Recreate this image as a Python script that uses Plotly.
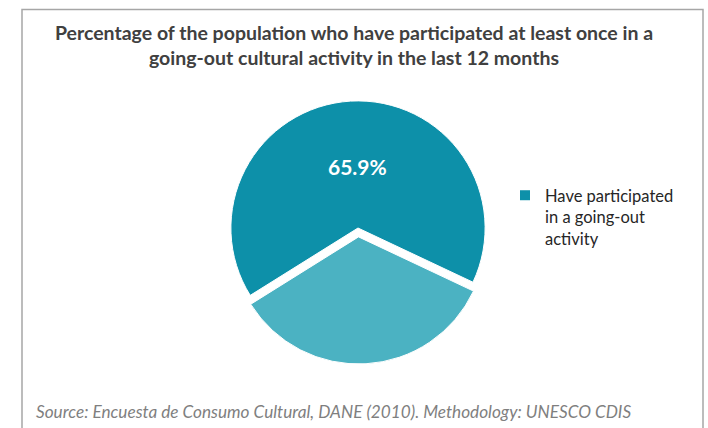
import plotly.graph_objects as go

# Data
labels = ["Have participated in a going-out activity", "Have not participated"]
values = [65.9, 34.1]
legend_label = "Have participated<br>in a going-out<br>activity"
title_text = ("Percentage of the population who have participated at least once in a"
              "<br>going-out cultural activity in the last 12 months")
source_text = "Source: Encuesta de Consumo Cultural, DANE (2010). Methodology: UNESCO CDIS"

colors = ["#0D90A9", "#4BB2C2"]
W, H = 708, 428

def px_x(x):
    return x / W

def px_y(y):
    return 1 - y / H

fig = go.Figure()

fig.add_trace(go.Pie(
    labels=labels,
    values=values,
    sort=False,
    direction="clockwise",
    rotation=-122,
    pull=[0, 0.07],
    marker=dict(colors=colors, line=dict(color="white", width=1)),
    textinfo="none",
    hoverinfo="label+percent",
    showlegend=False,
    domain=dict(x=[px_x(222), px_x(494)], y=[px_y(364), px_y(92)]),
))

# legend entry for the first category only
fig.add_trace(go.Scatter(
    x=[None], y=[None], mode="markers",
    name=legend_label,
    marker=dict(symbol="square", size=10, color=colors[0]),
    showlegend=True,
))

fig.add_annotation(
    x=px_x(357), y=px_y(166), xref="paper", yref="paper",
    text=f"<b>{values[0]:.1f}%</b>", showarrow=False,
    font=dict(family="Lato, sans-serif", size=21, color="white"),
    xanchor="center", yanchor="middle",
)

fig.add_annotation(
    x=px_x(34), y=px_y(411), xref="paper", yref="paper",
    text=f"<i>{source_text}</i>", showarrow=False,
    font=dict(family="Lato, sans-serif", size=17.2, color="#7F7F7F"),
    xanchor="left", yanchor="middle",
)

fig.add_shape(
    type="rect", xref="paper", yref="paper",
    x0=px_x(22), x1=px_x(703), y0=-0.2, y1=px_y(9.5),
    line=dict(color="#A6A6A6", width=1.5), fillcolor="rgba(0,0,0,0)", layer="below",
)

fig.update_layout(
    width=W, height=H,
    margin=dict(l=0, r=0, t=0, b=0),
    paper_bgcolor="white", plot_bgcolor="white",
    title=dict(
        text=f"<b>{title_text}</b>",
        x=0.5, xanchor="center", xref="paper",
        y=px_y(40), yanchor="middle", yref="container",
        font=dict(family="Lato, sans-serif", size=19.5, color="#404040"),
    ),
    xaxis=dict(visible=False), yaxis=dict(visible=False),
    legend=dict(
        x=px_x(505), y=px_y(178), xanchor="left", yanchor="top",
        valign="top",
        font=dict(family="Lato, sans-serif", size=16.5, color="#262626"),
        bgcolor="rgba(0,0,0,0)",
    ),
)

fig.write_html("out.html", config={"displayModeBar": False},
               post_script="document.body.style.margin='0';")
